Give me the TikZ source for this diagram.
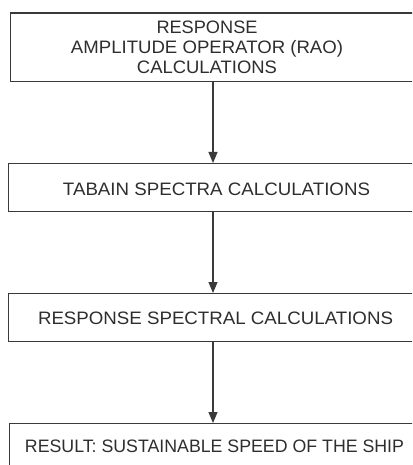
\documentclass[tikz,border=0pt]{standalone}
\usepackage{graphicx}
\usepackage{fontspec}
\setmainfont{Liberation Sans}
\usetikzlibrary{arrows.meta}
\definecolor{ln}{HTML}{3A3A3A}
\definecolor{tx}{HTML}{2E2E2E}
\newcommand{\fitw}[2]{\resizebox{#1}{\height}{#2}}
\begin{document}
\begin{tikzpicture}[x=1pt,y=-1pt,
  box/.style={draw=ln,line width=1.4pt,anchor=north west,inner sep=0pt,minimum width=420pt},
  lbl/.style={text=tx,font=\fontsize{18}{20}\selectfont,align=center,inner sep=0pt},
  arr/.style={draw=ln,line width=1.2pt,-{Triangle[width=9pt,length=11pt]}}]
\useasboundingbox (0,0) rectangle (412,465);
\clip (0,0) rectangle (412,465);
\fill[white] (0,0) rectangle (412,465);
\node[box,minimum height=68.5pt] (b1) at (10,12.5) {};
\node[box,minimum height=48pt] (b2) at (8,163) {};
\node[box,minimum height=48pt] (b3) at (8,293) {};
\node[box,minimum height=60pt] (b4) at (9,423) {};
\node[lbl] (t1) at (207,47) {\fitw{101pt}{RESPONSE}\\\fitw{272pt}{AMPLITUDE OPERATOR (RAO)}\\\fitw{140pt}{CALCULATIONS}};
\node[lbl] (t2) at (216.5,189) {\fitw{307pt}{TABAIN SPECTRA CALCULATIONS}};
\node[lbl] (t3) at (215.5,318.5) {\fitw{355pt}{RESPONSE SPECTRAL CALCULATIONS}};
\node[lbl] (t4) at (214.5,446) {\fitw{379pt}{RESULT: SUSTAINABLE SPEED OF THE SHIP}};
\coordinate (ax) at (213,0);
\draw[arr] (b1.south -| ax) -- (b2.north -| ax);
\draw[arr] (b2.south -| ax) -- (b3.north -| ax);
\draw[arr] (b3.south -| ax) -- (b4.north -| ax);
\end{tikzpicture}
\end{document}
